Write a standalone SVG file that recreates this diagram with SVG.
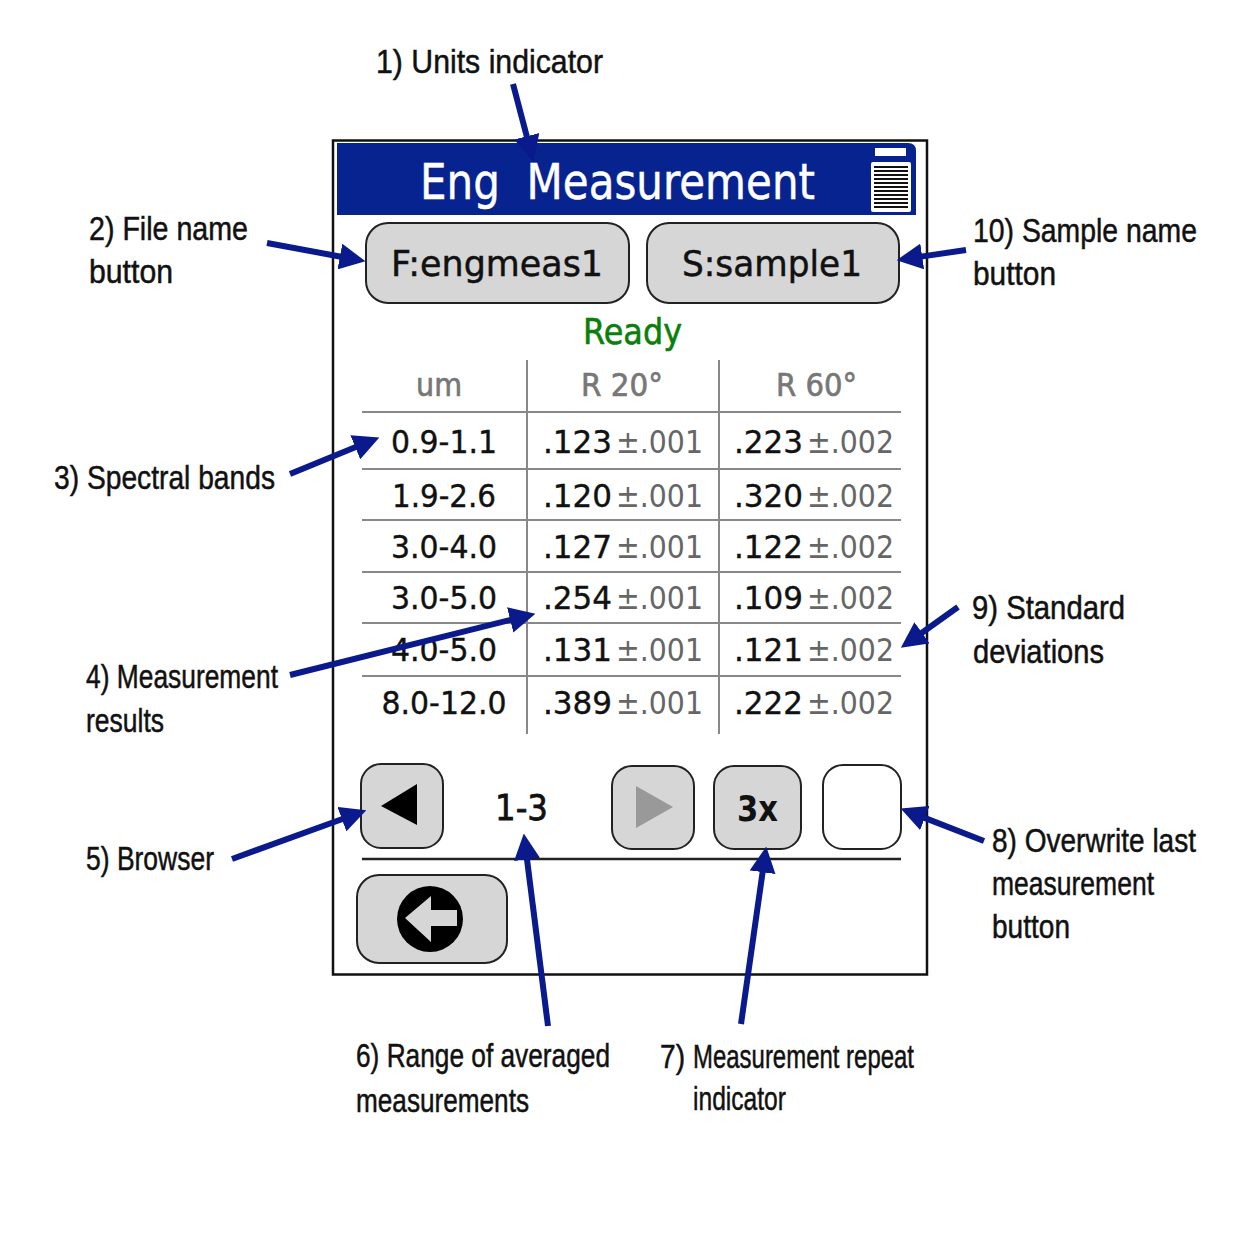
<svg xmlns="http://www.w3.org/2000/svg" width="1254" height="1254" viewBox="0 0 1254 1254">
<style>
.lb{font:34px "Liberation Sans",Arial,sans-serif;fill:#111;stroke:#111;stroke-width:.5}
.ui{font-family:"DejaVu Sans",Verdana,sans-serif}
.btn{fill:#d6d6d6;stroke:#222;stroke-width:2}
.bt{font-size:36px;fill:#111;stroke:#111;stroke-width:.5}
.hd{font-size:32px;fill:#777;stroke:#777;stroke-width:.7}
.c{font-size:32px;fill:#111;stroke:#111;stroke-width:.4}
.s{font-size:32px;fill:#666}
.g{stroke:#888;stroke-width:2;fill:none}
.ar{stroke:#0a1a8c;stroke-width:6;fill:none;marker-end:url(#ah)}
</style>
<defs>
<marker id="ah" markerUnits="userSpaceOnUse" markerWidth="26" markerHeight="26" viewBox="0 0 24 24" refX="6" refY="12" orient="auto"><path d="M0 0L24 12L0 24Z" fill="#0a1a8c"/></marker>
</defs>
<rect width="1254" height="1254" fill="#fff"/>
<g id="panel">
<rect x="333" y="140.500" width="594" height="834" fill="#fff" stroke="#111" stroke-width="2.500"/>
<path d="M337 143H908Q916 143 916 151V215H337Z" fill="#06238f"/>
<text class="ui" x="420" y="199" font-size="49" fill="#fff" stroke="#fff" stroke-width=".5" textLength="395" lengthAdjust="spacingAndGlyphs" style="white-space:pre">Eng  Measurement</text>
</g>
<g id="battery" fill="#fff">
<rect x="875" y="148" width="31" height="8"/>
<rect x="871" y="162" width="40" height="50" rx="2"/>
<path d="M874 167H908M874 171H908M874 175H908M874 179H908M874 183H908M874 187H908M874 191H908M874 195H908M874 199H908M874 203H908M874 207H908" stroke="#111" stroke-width="2" fill="none"/>
</g>
<g id="file-button" class="ui">
<rect class="btn" x="366" y="223" width="263" height="80" rx="22"/>
<text class="bt" x="391" y="276" textLength="212" lengthAdjust="spacingAndGlyphs">F:engmeas1</text>
</g>
<g id="sample-button" class="ui">
<rect class="btn" x="647" y="223" width="252" height="80" rx="22"/>
<text class="bt" x="682" y="276" textLength="180" lengthAdjust="spacingAndGlyphs">S:sample1</text>
</g>
<g id="status" class="ui"><text x="583" y="344" font-size="36" fill="#0a800a" stroke="#0a800a" stroke-width=".6" textLength="99" lengthAdjust="spacingAndGlyphs">Ready</text></g>
<g id="table" class="ui">
<path class="g" d="M527 360V734M719 360V734M362 412H901M362 469H901M362 520H901M362 572H901M362 623H901M362 676H901"/>
<text class="hd" x="416" y="396" textLength="46" lengthAdjust="spacingAndGlyphs">um</text>
<text class="hd" x="581" y="396" textLength="82" lengthAdjust="spacingAndGlyphs">R 20°</text>
<text class="hd" x="776" y="396" textLength="81" lengthAdjust="spacingAndGlyphs">R 60°</text>
<g text-anchor="middle">
<text class="c" x="444" y="453" textLength="106" lengthAdjust="spacingAndGlyphs">0.9-1.1</text>
<text class="c" x="444" y="507" textLength="104" lengthAdjust="spacingAndGlyphs">1.9-2.6</text>
<text class="c" x="444" y="558" textLength="106" lengthAdjust="spacingAndGlyphs">3.0-4.0</text>
<text class="c" x="444" y="609" textLength="106" lengthAdjust="spacingAndGlyphs">3.0-5.0</text>
<text class="c" x="444" y="661" textLength="106" lengthAdjust="spacingAndGlyphs">4.0-5.0</text>
<text class="c" x="444" y="714" textLength="125" lengthAdjust="spacingAndGlyphs">8.0-12.0</text>
</g>
<text class="c" x="543" y="453" textLength="69" lengthAdjust="spacingAndGlyphs">.123</text><text class="s" x="616" y="453" textLength="87" lengthAdjust="spacingAndGlyphs">±.001</text>
<text class="c" x="734" y="453" textLength="69" lengthAdjust="spacingAndGlyphs">.223</text><text class="s" x="807" y="453" textLength="87" lengthAdjust="spacingAndGlyphs">±.002</text>
<text class="c" x="543" y="507" textLength="69" lengthAdjust="spacingAndGlyphs">.120</text><text class="s" x="616" y="507" textLength="87" lengthAdjust="spacingAndGlyphs">±.001</text>
<text class="c" x="734" y="507" textLength="69" lengthAdjust="spacingAndGlyphs">.320</text><text class="s" x="807" y="507" textLength="87" lengthAdjust="spacingAndGlyphs">±.002</text>
<text class="c" x="543" y="558" textLength="69" lengthAdjust="spacingAndGlyphs">.127</text><text class="s" x="616" y="558" textLength="87" lengthAdjust="spacingAndGlyphs">±.001</text>
<text class="c" x="734" y="558" textLength="69" lengthAdjust="spacingAndGlyphs">.122</text><text class="s" x="807" y="558" textLength="87" lengthAdjust="spacingAndGlyphs">±.002</text>
<text class="c" x="543" y="609" textLength="69" lengthAdjust="spacingAndGlyphs">.254</text><text class="s" x="616" y="609" textLength="87" lengthAdjust="spacingAndGlyphs">±.001</text>
<text class="c" x="734" y="609" textLength="69" lengthAdjust="spacingAndGlyphs">.109</text><text class="s" x="807" y="609" textLength="87" lengthAdjust="spacingAndGlyphs">±.002</text>
<text class="c" x="543" y="661" textLength="69" lengthAdjust="spacingAndGlyphs">.131</text><text class="s" x="616" y="661" textLength="87" lengthAdjust="spacingAndGlyphs">±.001</text>
<text class="c" x="734" y="661" textLength="69" lengthAdjust="spacingAndGlyphs">.121</text><text class="s" x="807" y="661" textLength="87" lengthAdjust="spacingAndGlyphs">±.002</text>
<text class="c" x="543" y="714" textLength="69" lengthAdjust="spacingAndGlyphs">.389</text><text class="s" x="616" y="714" textLength="87" lengthAdjust="spacingAndGlyphs">±.001</text>
<text class="c" x="734" y="714" textLength="69" lengthAdjust="spacingAndGlyphs">.222</text><text class="s" x="807" y="714" textLength="87" lengthAdjust="spacingAndGlyphs">±.002</text>
</g>
<g id="prev-button"><rect class="btn" x="361" y="764" width="82" height="84" rx="20"/><path d="M381 806L417 784V825Z" fill="#000"/></g>
<g id="range" class="ui"><text x="495" y="820" font-size="36" fill="#111" stroke="#111" stroke-width=".8" textLength="53" lengthAdjust="spacingAndGlyphs">1-3</text></g>
<g id="next-button"><rect class="btn" x="612" y="766" width="82" height="83" rx="20"/><path d="M636 786L673 807L636 828Z" fill="#999"/></g>
<g id="repeat-button" class="ui"><rect class="btn" x="714" y="766" width="87" height="83" rx="20"/><text x="737" y="821" font-size="36" font-weight="bold" fill="#111" textLength="41" lengthAdjust="spacingAndGlyphs">3x</text></g>
<g id="overwrite-button"><rect x="823" y="765" width="78" height="84" rx="20" fill="#fff" stroke="#222" stroke-width="2"/></g>
<path id="divider" d="M362 859H901" stroke="#222" stroke-width="2.500"/>
<g id="back-button"><rect class="btn" x="357" y="875" width="150" height="88" rx="22"/><circle cx="430" cy="919" r="33" fill="#000"/><path d="M405 918L431 896V910H457V926H431V942Z" fill="#d6d6d6"/></g>
<g id="connectors">
<path class="ar" d="M513 84L528.400 142.600"/>
<path class="ar" d="M267 243L346.300 257.700"/>
<path class="ar" d="M966 250L915.800 257.400"/>
<path class="ar" d="M290 474L361.300 444.800"/>
<path class="ar" d="M290 675L516.500 618.400"/>
<path class="ar" d="M958 607L916.700 636.500"/>
<path class="ar" d="M232 859L348 817"/>
<path class="ar" d="M548 1026L526.200 852.900"/>
<path class="ar" d="M741 1024L763.500 865.800"/>
<path class="ar" d="M984 841L918.800 815.600"/>
</g>
<g id="labels">
<text class="lb" x="376" y="73" textLength="227" lengthAdjust="spacingAndGlyphs">1) Units indicator</text>
<text class="lb" x="89" y="240" textLength="159" lengthAdjust="spacingAndGlyphs">2) File name</text>
<text class="lb" x="89" y="283" textLength="84" lengthAdjust="spacingAndGlyphs">button</text>
<text class="lb" x="973" y="242" textLength="224" lengthAdjust="spacingAndGlyphs">10) Sample name</text>
<text class="lb" x="973" y="285" textLength="83" lengthAdjust="spacingAndGlyphs">button</text>
<text class="lb" x="54" y="489" textLength="221" lengthAdjust="spacingAndGlyphs">3) Spectral bands</text>
<text class="lb" x="86" y="688" textLength="192" lengthAdjust="spacingAndGlyphs">4) Measurement</text>
<text class="lb" x="86" y="732" textLength="78" lengthAdjust="spacingAndGlyphs">results</text>
<text class="lb" x="86" y="870" textLength="128" lengthAdjust="spacingAndGlyphs">5) Browser</text>
<text class="lb" transform="translate(356 1067) scale(.8 1)" textLength="317.500" lengthAdjust="spacingAndGlyphs">6) Range of averaged</text>
<text class="lb" x="356" y="1112" textLength="173" lengthAdjust="spacingAndGlyphs">measurements</text>
<text class="lb" x="660" y="1068" textLength="25" lengthAdjust="spacingAndGlyphs">7)</text>
<text class="lb" x="693" y="1068" textLength="221" lengthAdjust="spacingAndGlyphs">Measurement repeat</text>
<text class="lb" x="693" y="1110" textLength="93" lengthAdjust="spacingAndGlyphs">indicator</text>
<text class="lb" x="992" y="852" textLength="204" lengthAdjust="spacingAndGlyphs">8) Overwrite last</text>
<text class="lb" x="992" y="895" textLength="162" lengthAdjust="spacingAndGlyphs">measurement</text>
<text class="lb" x="992" y="938" textLength="78" lengthAdjust="spacingAndGlyphs">button</text>
<text class="lb" x="972" y="619" textLength="153" lengthAdjust="spacingAndGlyphs">9) Standard</text>
<text class="lb" x="973" y="663" textLength="131" lengthAdjust="spacingAndGlyphs">deviations</text>
</g>
</svg>
